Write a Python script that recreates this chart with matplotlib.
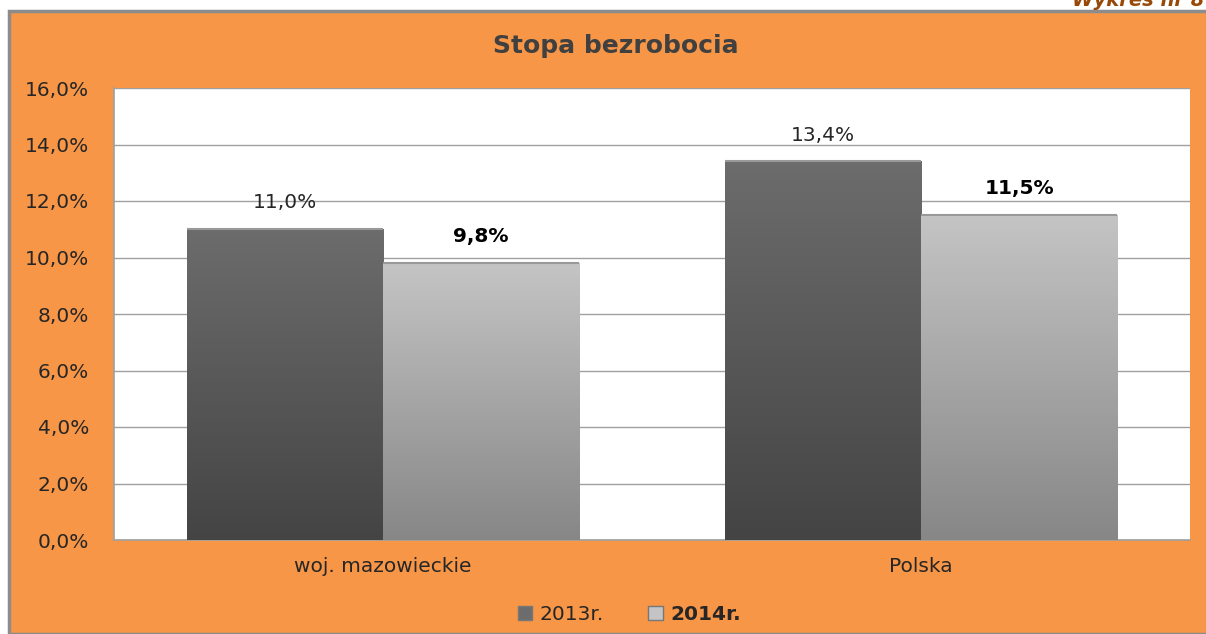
import matplotlib.pyplot as plt
import numpy as np
from matplotlib.patches import Rectangle
from matplotlib.ticker import FuncFormatter

# Chart data
categories = ['woj. mazowieckie', 'Polska']
series_names = ['2013r.', '2014r.']
values_2013 = [11.0, 13.4]
values_2014 = [9.8, 11.5]
label_bold = [False, True]

# gradient colours (top, bottom) per series
grad_colors = [('#6c6c6c', '#444444'), ('#c4c4c4', '#878787')]

fig = plt.figure(figsize=(12.06, 6.34), dpi=100)
fig.patch.set_facecolor('white')

# orange frame, slightly offset from the top-left corner
frame = Rectangle((9 / 1206, 0), 1.0, 1 - 11 / 634, transform=fig.transFigure,
                  facecolor='#F79646', edgecolor='#8c8c8c', linewidth=2.5, zorder=-10)
fig.patches.append(frame)

fig.text(1072 / 1206, 1 - 6 / 634, 'Wykres nr 8', color='#984807', fontsize=14,
         fontweight='bold', fontstyle='italic', ha='left', va='baseline')

ax = fig.add_axes([114 / 1206, 1 - 540 / 634, 1076 / 1206, 452 / 634])
ax.set_facecolor('white')

x = np.arange(len(categories))
width = 0.365
offsets = [-width / 2, width / 2]

for i, vals in enumerate([values_2013, values_2014]):
    bars = ax.bar(x + offsets[i], vals, width=width, color=grad_colors[i][1],
                  edgecolor='none', zorder=2, label=series_names[i])
    top_c, bot_c = grad_colors[i]
    top_rgb = np.array(plt.matplotlib.colors.to_rgb(top_c))
    bot_rgb = np.array(plt.matplotlib.colors.to_rgb(bot_c))
    for b, v in zip(bars, vals):
        t = np.linspace(0, 1, 100)[:, None]
        img = (top_rgb * (1 - t) + bot_rgb * t)[:, None, :]
        im = ax.imshow(img, extent=[b.get_x(), b.get_x() + b.get_width(), 0, v],
                       aspect='auto', origin='upper', zorder=3)
        im.set_clip_path(b)
        # light bevel on the top edge
        ax.plot([b.get_x(), b.get_x() + b.get_width()], [v, v], color='#999999',
                linewidth=1.5, zorder=4, solid_capstyle='butt')
        ax.annotate(f'{v:.1f}%'.replace('.', ','), (b.get_x() + b.get_width() / 2, v),
                    xytext=(0, 19), textcoords='offset points',
                    ha='center', va='center', fontsize=14.5,
                    fontweight='bold' if label_bold[i] else 'normal',
                    color='#000000' if label_bold[i] else '#262626', zorder=5)

ax.set_xlim(-0.5, 1.5)
ax.set_ylim(0, 16)
ax.set_yticks(np.arange(0, 16.1, 2))
ax.yaxis.set_major_formatter(FuncFormatter(lambda v, p: f'{v:.1f}%'.replace('.', ',')))
ax.set_xticks(x)
ax.set_xticklabels(categories)
ax.tick_params(axis='both', length=0, labelsize=14.5, labelcolor='#262626')
ax.tick_params(axis='x', pad=12)
ax.tick_params(axis='y', pad=18)

ax.grid(axis='y', color='#a0a0a0', linewidth=1, zorder=1)
ax.set_axisbelow(True)
for side in ['top', 'right']:
    ax.spines[side].set_visible(False)
for side in ['left', 'bottom']:
    ax.spines[side].set_color('#a0a0a0')
    ax.spines[side].set_linewidth(1.2)

fig.text(0.511, 1 - 46 / 634, 'Stopa bezrobocia', ha='center', va='center',
         fontsize=18, fontweight='bold', color='#404040')

handles = [Rectangle((0, 0), 1, 1, facecolor=grad_colors[i][0], edgecolor='#777777')
           for i in range(2)]
leg = fig.legend(handles, series_names, loc='center', bbox_to_anchor=(0.522, 0.03),
                 ncol=2, frameon=False, fontsize=14.5, handlelength=0.7, handleheight=0.7,
                 columnspacing=2.2, handletextpad=0.4)
leg.get_texts()[1].set_fontweight('bold')
for t in leg.get_texts():
    t.set_color('#262626')

fig.savefig('out.png', dpi=100)
